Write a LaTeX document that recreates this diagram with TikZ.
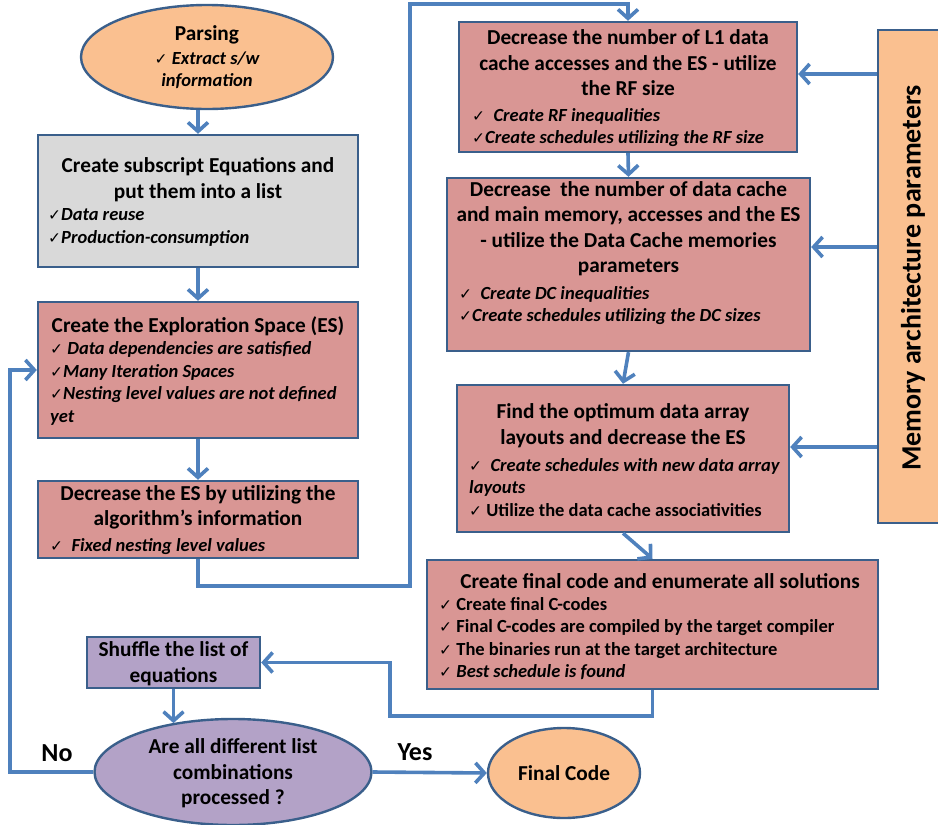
\documentclass[tikz,border=0pt]{standalone}
\usepackage{fontspec}
\setmainfont{Carlito}
\newfontfamily\djv{DejaVu Sans}
\usetikzlibrary{arrows.meta,shapes.geometric}
\definecolor{redfill}{HTML}{D99694}
\definecolor{grayfill}{HTML}{D9D9D9}
\definecolor{orangefill}{HTML}{FAC090}
\definecolor{lavfill}{HTML}{B3A2C7}
\definecolor{bordercol}{HTML}{3A5F8B}
\definecolor{arrowcol}{HTML}{4F81BD}
\newcommand{\ck}{{\djv\upshape\mdseries\fontsize{15.5}{15.5}\selectfont ✓}}
\tikzset{
  box/.style={draw=bordercol, line width=2.4pt, rectangle, inner sep=0pt},
  oval/.style={draw=bordercol, line width=2.4pt, ellipse, inner sep=0pt, align=center},
  arr/.style={draw=arrowcol, line width=3.6pt, -{Straight Barb[length=9pt,width=20pt,line width=3.6pt]}},
  ttl/.style={align=center, inner sep=0pt, font=\bfseries\fontsize{21.3}{25.5}\selectfont},
  itm/.style={align=left, inner sep=0pt, anchor=west, font=\bfseries\itshape\fontsize{18.5}{22.5}\selectfont},
  itmc/.style={align=center, inner sep=0pt, font=\bfseries\itshape\fontsize{18.5}{21.5}\selectfont},
  lbl/.style={inner sep=0pt, font=\bfseries\fontsize{26}{28}\selectfont}
}
\begin{document}
\begin{tikzpicture}[x=1pt,y=-1pt]
\useasboundingbox (0,0) rectangle (938,825);
% boxes
\node[oval, fill=orangefill, minimum width=252pt, minimum height=104pt] (parse) at (207,57) {};
\node[box, fill=grayfill, minimum width=320pt, minimum height=132pt] (gray) at (198,201) {};
\node[box, fill=redfill, minimum width=320pt, minimum height=136pt] (es) at (198,370) {};
\node[box, fill=redfill, minimum width=320pt, minimum height=77pt] (dec) at (198,519.5) {};
\node[box, fill=redfill, minimum width=338pt, minimum height=130pt] (l1) at (628,87) {};
\node[box, fill=redfill, minimum width=363pt, minimum height=173pt] (dc) at (628.5,264.5) {};
\node[box, fill=redfill, minimum width=332pt, minimum height=147pt] (find) at (623,458.5) {};
\node[box, fill=redfill, minimum width=451pt, minimum height=129pt] (fin) at (652.5,624.5) {};
\node[box, fill=lavfill, minimum width=173pt, minimum height=51pt] (shuf) at (173.5,662.5) {};
\node[box, fill=orangefill, minimum width=67pt, minimum height=493pt] (mem) at (911.5,276.5) {};
\node[oval, fill=lavfill, minimum width=277pt, minimum height=106pt] (decision) at (233,772) {};
\node[oval, fill=orangefill, minimum width=152pt, minimum height=90pt] (final) at (564,773) {};

% texts
\node[ttl] (parseT) at (207,35) {Parsing};
\node[itmc] (parseI) at (207,70) {\ck\ Extract s/w\\information};

\node[ttl] (grayT) at (198,179.5) {Create subscript Equations and\\put them into a list};
\node[itm] (grayI) at (48,227.5) {\ck Data reuse\\\ck Production-consumption};

\node[ttl] (esT) at (198,326) {Create the Exploration Space (ES)};
\node[itm] (esI) at (50,383.5) {\ck\ Data dependencies are satisfied\\\ck Many Iteration Spaces\\\ck Nesting level values are not defined\\yet};

\node[ttl] (decT) at (198,507.5) {Decrease the ES by utilizing the\\algorithm’s information};
\node[itm] (decI) at (50,547) {\ck\ \ Fixed nesting level values};

\node[ttl] (l1T) at (628,63) {Decrease the number of L1 data\\cache accesses and the ES - utilize\\the RF size};
\node[itm] (l1I) at (472,127.5) {\ck\ \ Create RF inequalities\\\ck Create schedules utilizing the RF size};

\node[ttl] (dcT) at (628.5,228.5) {Decrease\ \ the number of data cache\\and main memory, accesses and the ES\\- utilize the Data Cache memories\\parameters};
\node[itm] (dcI) at (459,305.5) {\ck\ \ Create DC inequalities\\\ck Create schedules utilizing the DC sizes};

\node[ttl] (findT) at (623,425.5) {Find the optimum data array\\layouts and decrease the ES};
\node[itm] (findI) at (469,487.5) {\ck\ \ Create schedules with new data array\\layouts\\\ck\ {\upshape Utilize the data cache associativities}};

\node[ttl] (finT) at (660,581) {Create final code and enumerate all solutions};
\node[itm] (finI) at (439,638.5) {\ck\ {\upshape Create final C-codes}\\\ck\ {\upshape Final C-codes are compiled by the target compiler}\\\ck\ {\upshape The binaries run at the target architecture}\\\ck\ Best schedule is found};

\node[ttl] (shufT) at (173.5,663.5) {Shuffle the list of\\equations};
\node[ttl] (decisionT) at (233,773.5) {Are all different list\\combinations\\processed ?};
\node[ttl] (finalT) at (564,773) {Final Code};
\node[inner sep=0pt, rotate=90, font=\bfseries\fontsize{28}{30}\selectfont] (memT) at (913,278) {Memory architecture parameters};

\node[lbl] (no) at (57,753) {No};
\node[lbl] (yes) at (415,752) {Yes};

% connectors
\coordinate (t1) at (410,586);
\coordinate (t2) at (628,4);
\coordinate (b1) at (390,716);
\coordinate (n1) at (10,370);
\draw[arr] (gray.north |- parse.south) -- (gray.north);
\draw[arr] (gray.south) -- (es.north);
\draw[arr] (es.south) -- (dec.north);
\draw[arr] (dec.south) |- (t1) |- (t2) -- (l1.north);
\draw[arr] (l1.south) -- (dc.north);
\draw[arr] (dc.south) -- (find.north);
\draw[arr] (find.south) -- (fin.north);
\draw[arr] (mem.west |- 0,74) -- (l1.east |- 0,74);
\draw[arr] (mem.west |- 0,247) -- (dc.east |- 0,247);
\draw[arr] (mem.west |- 0,447) -- (find.east |- 0,447);
\draw[arr] (fin.south) |- (b1) |- (shuf.east);
\draw[arr] (shuf.south) -- (shuf.south |- decision.141);
\draw[arr] (decision.west) -| (n1) -- (es.west);
\draw[arr] (decision.east) -- (final.west);
\end{tikzpicture}
\end{document}
